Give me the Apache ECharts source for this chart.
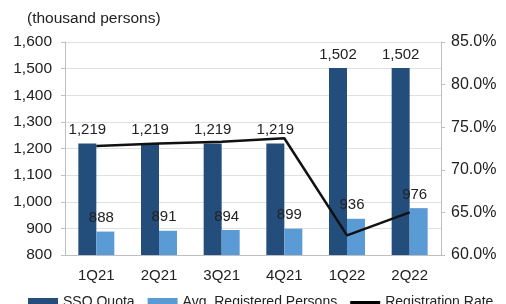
<!DOCTYPE html>
<html>
<head>
<meta charset="utf-8">
<script src="https://cdn.jsdelivr.net/npm/echarts@6/dist/echarts.min.js"></script>
<style>
  html, body { margin: 0; padding: 0; background: #fff; }
  #chart { width: 506px; height: 304px; }
</style>
</head>
<body>
<div id="chart"></div>
<script>
// quarters and values
var quarters = ["1Q21", "2Q21", "3Q21", "4Q21", "1Q22", "2Q22"];
var ssoQuota = [1219, 1219, 1219, 1219, 1502, 1502];
var avgRegistered = [888, 891, 894, 899, 936, 976];
var registrationRate = [72.8, 73.1, 73.3, 73.7, 62.3, 65.0];

var chart = echarts.init(document.getElementById("chart"));
var font = "Liberation Sans, Arial, sans-serif";
var txt = "#222";

var option = {
  animation: false,
  backgroundColor: "#fff",
  textStyle: { fontFamily: font },
  grid: { left: 65, right: 65, top: 42, bottom: 49 },
  graphic: [
    {
      type: "text",
      left: 27,
      top: 11,
      style: { text: "(thousand persons)", fontSize: 15.5, fill: txt, fontFamily: font }
    }
  ],
  legend: {
    left: 23,
    top: 290,
    width: 520,
    itemWidth: 30,
    itemHeight: 8,
    itemGap: 13,
    textStyle: { fontSize: 14, color: txt, fontFamily: font },
    data: [
      { name: "SSO Quota", icon: "rect" },
      { name: "Avg. Registered Persons", icon: "rect" },
      {
        name: "Registration Rate",
        // thin bar inside an 8px tall box (the bare moves set the box)
        icon: "path://M0,0 M0,8 M0,3 L30,3 L30,6 L0,6 Z",
        itemStyle: { color: "#000" }
      }
    ]
  },
  xAxis: {
    type: "category",
    data: quarters,
    axisLine: { lineStyle: { color: "#bfbfbf" } },
    axisTick: { show: false },
    axisLabel: { fontSize: 15, color: txt, margin: 13 }
  },
  yAxis: [
    {
      type: "value",
      min: 800,
      max: 1600,
      interval: 100,
      axisLine: { show: true, lineStyle: { color: "#bfbfbf" } },
      axisTick: { show: true, length: 4, lineStyle: { color: "#bfbfbf" } },
      splitLine: { lineStyle: { color: "#e0e0e0" } },
      axisLabel: {
        fontSize: 15.5,
        color: txt,
        margin: 13,
        formatter: function (v) { return v.toLocaleString("en-US"); }
      }
    },
    {
      type: "value",
      min: 60,
      max: 85,
      interval: 5,
      position: "right",
      axisLine: { show: true, lineStyle: { color: "#bfbfbf" } },
      axisTick: { show: true, length: 4, lineStyle: { color: "#bfbfbf" } },
      splitLine: { show: false },
      axisLabel: {
        fontSize: 16,
        color: txt,
        margin: 10,
        formatter: function (v) { return v.toFixed(1) + "%"; }
      }
    }
  ],
  series: [
    {
      name: "SSO Quota",
      type: "bar",
      data: ssoQuota,
      barWidth: 18,
      barGap: "0%",
      itemStyle: { color: "#234e7b" },
      label: {
        show: true,
        position: "top",
        distance: 6,
        fontSize: 15,
        color: txt,
        formatter: function (p) { return p.value.toLocaleString("en-US"); }
      }
    },
    {
      name: "Avg. Registered Persons",
      type: "bar",
      data: avgRegistered,
      barWidth: 18,
      barGap: "0%",
      itemStyle: { color: "#5b9bd5" },
      label: {
        show: true,
        position: "top",
        distance: 6,
        offset: [-4, 0],
        fontSize: 15,
        color: txt
      }
    },
    {
      name: "Registration Rate",
      type: "line",
      yAxisIndex: 1,
      data: registrationRate,
      symbol: "none",
      lineStyle: { color: "#111", width: 2.5 },
      itemStyle: { color: "#111" },
      z: 5
    }
  ]
};

chart.setOption(option);
</script>
</body>
</html>
